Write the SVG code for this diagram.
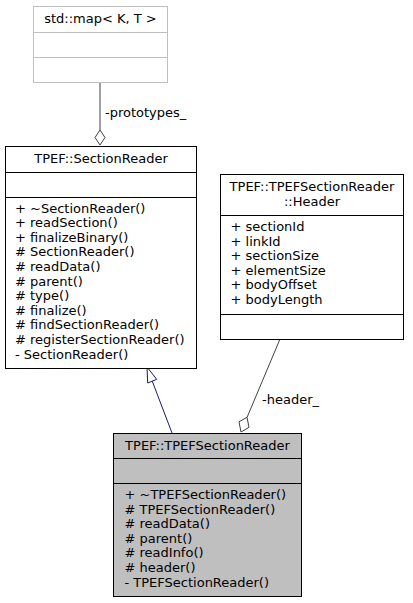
<svg xmlns="http://www.w3.org/2000/svg" width="413" height="603" viewBox="0 0 413 603">
<style>
text{font-family:"DejaVu Sans","Liberation Sans",sans-serif;font-size:13px;fill:#000}
.c{text-anchor:middle}
.box{fill:#fff;stroke:#000;stroke-width:1}
.grey{fill:#fff;stroke:#bfbfbf;stroke-width:1}
.sel{fill:#bfbfbf;stroke:#000;stroke-width:1}
.e{fill:none;stroke:#404040;stroke-width:1}
.inh{fill:none;stroke:#191970;stroke-width:1}
</style>
<rect width="413" height="603" fill="#fff"/>
<g id="connectors">
<line class="e" x1="100" y1="82" x2="100" y2="130"/>
<polygon class="e" points="100,130 95,137.5 100,145 105,137.5" style="fill:#fff"/>
<text x="105" y="117">-prototypes_</text>
<line class="inh" x1="172" y1="433" x2="152.2" y2="381"/>
<polygon class="inh" points="147,367 147.7,383 156.7,379.3" style="fill:#fff"/>
<line class="e" x1="280" y1="339" x2="247" y2="417.5"/>
<polygon class="e" points="247,417.3 239,421.8 241,432 249,427.3" style="fill:#fff"/>
<text x="262" y="404">-header_</text>
</g>
<g id="node-map">
<rect class="grey" x="33.5" y="6.5" width="134" height="76"/>
<line class="grey" x1="33.5" y1="32.5" x2="167.5" y2="32.5"/>
<line class="grey" x1="33.5" y1="57.5" x2="167.5" y2="57.5"/>
<text class="c" x="100.5" y="23">std::map&lt; K, T &gt;</text>
</g>
<g id="node-SectionReader">
<rect class="box" x="5.5" y="146.5" width="191" height="222"/>
<line class="box" x1="5.5" y1="172.5" x2="196.5" y2="172.5"/>
<line class="box" x1="5.5" y1="197.5" x2="196.5" y2="197.5"/>
<text class="c" x="101" y="162.5">TPEF::SectionReader</text>
<text x="15" y="212.5">+ ~SectionReader()</text>
<text x="15" y="227.1">+ readSection()</text>
<text x="15" y="241.7">+ finalizeBinary()</text>
<text x="15" y="256.3"># SectionReader()</text>
<text x="15" y="270.9"># readData()</text>
<text x="15" y="285.5"># parent()</text>
<text x="15" y="300.1"># type()</text>
<text x="15" y="314.7"># finalize()</text>
<text x="15" y="329.3"># findSectionReader()</text>
<text x="15" y="343.9"># registerSectionReader()</text>
<text x="15" y="358.5">- SectionReader()</text>
</g>
<g id="node-Header">
<rect class="box" x="220.5" y="174.5" width="183" height="165"/>
<line class="box" x1="220.5" y1="215.5" x2="403.5" y2="215.5"/>
<line class="box" x1="220.5" y1="314.5" x2="403.5" y2="314.5"/>
<text class="c" x="312" y="191">TPEF::TPEFSectionReader</text>
<text class="c" x="312" y="206">::Header</text>
<text x="230.5" y="231">+ sectionId</text>
<text x="230.5" y="245.6">+ linkId</text>
<text x="230.5" y="260.2">+ sectionSize</text>
<text x="230.5" y="274.8">+ elementSize</text>
<text x="230.5" y="289.4">+ bodyOffset</text>
<text x="230.5" y="304">+ bodyLength</text>
</g>
<g id="node-TPEFSectionReader">
<rect class="sel" x="113.5" y="433.5" width="188" height="163"/>
<line class="sel" x1="113.5" y1="458.5" x2="301.5" y2="458.5"/>
<line class="sel" x1="113.5" y1="483.5" x2="301.5" y2="483.5"/>
<text class="c" x="207.5" y="449.5">TPEF::TPEFSectionReader</text>
<text x="124.5" y="499">+ ~TPEFSectionReader()</text>
<text x="124.5" y="513.6"># TPEFSectionReader()</text>
<text x="124.5" y="528.2"># readData()</text>
<text x="124.5" y="542.8"># parent()</text>
<text x="124.5" y="557.4"># readInfo()</text>
<text x="124.5" y="572"># header()</text>
<text x="124.5" y="586.6">- TPEFSectionReader()</text>
</g>
</svg>
